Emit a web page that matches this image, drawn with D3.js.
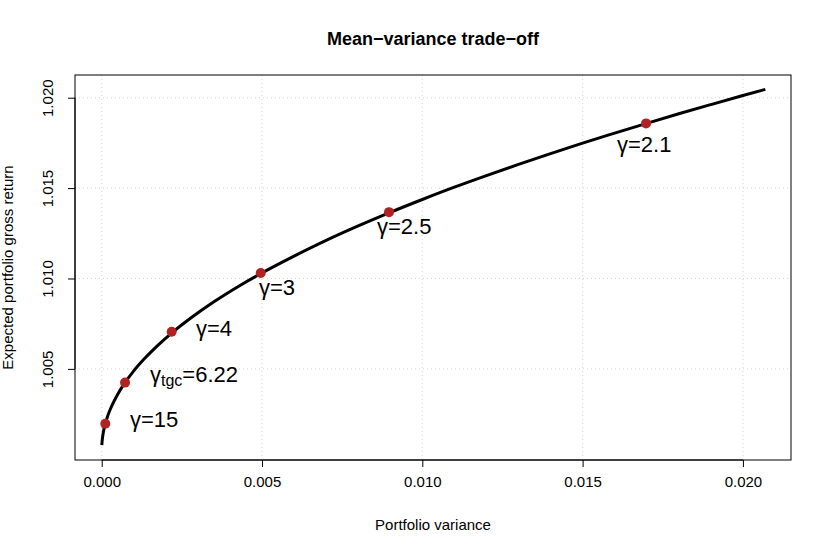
<!DOCTYPE html>
<html>
<head>
<meta charset="utf-8">
<script src="https://cdn.jsdelivr.net/npm/d3@7"></script>
<style>
  html, body { margin: 0; padding: 0; background: #fff; }
  svg text { font-family: "Liberation Sans", Arial, Helvetica, sans-serif; }
</style>
</head>
<body>
<svg id="chart" width="830" height="554"></svg>
<script>
// ---- data ----
const frontierVar = [0.000004, 0.00001, 0.00002, 0.00005, 0.0001, 0.0002, 0.0003, 0.0005, 0.0007, 0.001,
  0.0013, 0.0017, 0.0022, 0.0028, 0.0035, 0.0043, 0.005, 0.006, 0.007, 0.008, 0.009, 0.010,
  0.011, 0.012, 0.013, 0.014, 0.015, 0.016, 0.017, 0.018, 0.019, 0.020, 0.0207];
const frontierRet = [1.00078, 1.00094, 1.00112, 1.00148, 1.00189, 1.00246, 1.00290, 1.00360, 1.00417, 1.00489,
  1.00550, 1.00622, 1.00701, 1.00784, 1.00871, 1.00960, 1.01031, 1.01124, 1.01211, 1.01291, 1.01366, 1.01437,
  1.01505, 1.01569, 1.01631, 1.01691, 1.01749, 1.01804, 1.01858, 1.01911, 1.01962, 1.02012, 1.02046];

const gammaNames = ["15", "6.22", "4", "3", "2.5", "2.1"];
const gammaSub   = ["", "tgc", "", "", "", ""];
const pointVar   = [0.000112, 0.000727, 0.002183, 0.00496, 0.008961, 0.016978];
const pointRet   = [1.00197, 1.00424, 1.00705, 1.01030, 1.01367, 1.01858];
// label anchors (left edge, baseline) in data units
const labelVar   = [0.000883, 0.001507, 0.002941, 0.004906, 0.008587, 0.016073];
const labelRet   = [1.00179, 1.00428, 1.00680, 1.00906, 1.01247, 1.01701];

const xTicks = [0.000, 0.005, 0.010, 0.015, 0.020];
const yTicks = [1.005, 1.010, 1.015, 1.020];
const xDomain = [-0.000833, 0.0215];
const yDomain = [0.99996, 1.021256];

const titleText = "Mean\u2212variance trade\u2212off";
const xTitle = "Portfolio variance";
const yTitle = "Expected portfolio gross return";

// ---- layout ----
const L = 75, R = 791, T = 75, B = 460;
const svg = d3.select("#chart");
const x = d3.scaleLinear().domain(xDomain).range([L, R]);
const y = d3.scaleLinear().domain(yDomain).range([B, T]);

// grid
const grid = svg.append("g");
grid.selectAll("line.vx").data(xTicks).join("line")
  .attr("x1", d => x(d)).attr("x2", d => x(d)).attr("y1", T).attr("y2", B)
  .attr("stroke", "#d3d3d3").attr("stroke-width", 1).attr("stroke-dasharray", "1,3");
grid.selectAll("line.hy").data(yTicks).join("line")
  .attr("y1", d => y(d)).attr("y2", d => y(d)).attr("x1", L).attr("x2", R)
  .attr("stroke", "#d3d3d3").attr("stroke-width", 1).attr("stroke-dasharray", "1,3");

// frontier curve
const pts = frontierVar.map((v, i) => [v, frontierRet[i]]);
svg.append("path")
  .attr("d", d3.line().x(d => x(d[0])).y(d => y(d[1])).curve(d3.curveMonotoneX)(pts))
  .attr("fill", "none").attr("stroke", "#000").attr("stroke-width", 3);

// points
svg.selectAll("circle.g").data(pointVar).join("circle")
  .attr("cx", d => x(d)).attr("cy", (d, i) => y(pointRet[i])).attr("r", 5)
  .attr("fill", "#B22222");

// labels
const lab = svg.selectAll("text.lab").data(gammaNames).join("text")
  .attr("x", (d, i) => x(labelVar[i])).attr("y", (d, i) => y(labelRet[i]))
  .attr("font-size", 22).attr("fill", "#000");
lab.each(function(d, i) {
  const t = d3.select(this);
  t.append("tspan").text("\u03b3");
  if (gammaSub[i]) {
    t.append("tspan").attr("font-size", 16).attr("dy", 4).text(gammaSub[i]);
    t.append("tspan").attr("dy", -4).text("=" + d);
  } else {
    t.append("tspan").text("=" + d);
  }
});

// box
svg.append("rect").attr("x", L).attr("y", T).attr("width", R - L).attr("height", B - T)
  .attr("fill", "none").attr("stroke", "#000").attr("stroke-width", 1);

// x axis
const xa = svg.append("g").attr("transform", `translate(0,${B})`)
  .call(d3.axisBottom(x).tickValues(xTicks).tickFormat(d3.format(".3f")).tickSize(7).tickPadding(9));
xa.select(".domain").attr("d", `M${x(xTicks[0])},0H${x(xTicks[xTicks.length-1])}`);
xa.selectAll("text").attr("font-size", 15).attr("font-family", null).attr("fill", "#000");

// y axis
const ya = svg.append("g").attr("transform", `translate(${L},0)`)
  .call(d3.axisLeft(y).tickValues(yTicks).tickFormat(d3.format(".3f")).tickSize(7));
ya.select(".domain").attr("d", `M0,${y(yTicks[0])}V${y(yTicks[yTicks.length-1])}`);
ya.selectAll("text").remove();
ya.selectAll(".tick").append("text")
  .attr("transform", "translate(-22,0) rotate(-90)")
  .attr("text-anchor", "middle").attr("font-size", 15).attr("fill", "#000")
  .text(d => d3.format(".3f")(d));

// titles
svg.append("text").attr("x", (L + R) / 2).attr("y", 45).attr("text-anchor", "middle")
  .attr("font-size", 18).attr("font-weight", "bold").text(titleText);
svg.append("text").attr("x", (L + R) / 2).attr("y", 530).attr("text-anchor", "middle")
  .attr("font-size", 15).text(xTitle);
svg.append("text").attr("transform", `translate(13,${(T + B) / 2}) rotate(-90)`)
  .attr("text-anchor", "middle").attr("font-size", 15).text(yTitle);
</script>
</body>
</html>
